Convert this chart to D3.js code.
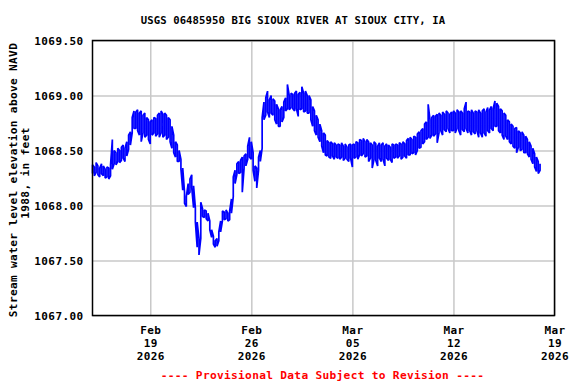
<!DOCTYPE html>
<html>
<head>
<meta charset="utf-8">
<script src="https://cdn.jsdelivr.net/npm/d3@7.9.0/dist/d3.min.js"></script>
<style>
  body { margin: 0; background: #fff; }
  svg { display: block; }
  text { font-family: "DejaVu Sans Mono", "Liberation Mono", monospace; font-weight: bold; }
</style>
</head>
<body>
<div id="chart"></div>
<script>
const title = "USGS 06485950 BIG SIOUX RIVER AT SIOUX CITY,  IA";
const yLabel = ["Stream water level elevation above NAVD", "1988, in feet"];
const note = "---- Provisional Data Subject to Revision ----";

const startTime = new Date(2026, 1, 15, 0, 0);
const endTime = new Date(2026, 2, 19, 0, 0);
const binHours = 3;

const yTicks = [1067.0, 1067.5, 1068.0, 1068.5, 1069.0, 1069.5];
const xTicks = [new Date(2026, 1, 19), new Date(2026, 1, 26), new Date(2026, 2, 5), new Date(2026, 2, 12), new Date(2026, 2, 19)];

// highest reading in each 3-hour bin, from Feb 15 00:00, one row per day
const highs = [
  1068.37, 1068.35, 1068.39, 1068.36, 1068.34, 1068.38, 1068.36, 1068.33, // Feb 15
  1068.35, 1068.34, 1068.37, 1068.60, 1068.50, 1068.48, 1068.52, 1068.50, // Feb 16
  1068.53, 1068.55, 1068.52, 1068.58, 1068.64, 1068.67, 1068.80, 1068.86, // Feb 17
  1068.85, 1068.87, 1068.84, 1068.86, 1068.82, 1068.84, 1068.80, 1068.78, // Feb 18
  1068.76, 1068.78, 1068.80, 1068.79, 1068.82, 1068.84, 1068.86, 1068.83, // Feb 19
  1068.84, 1068.82, 1068.80, 1068.78, 1068.72, 1068.64, 1068.58, 1068.55, // Feb 20
  1068.50, 1068.42, 1068.34, 1068.12, 1068.08, 1068.20, 1068.24, 1068.28, // Feb 21
  1068.18, 1067.98, 1067.85, 1067.70, 1068.03, 1067.97, 1067.96, 1067.95, // Feb 22
  1067.93, 1067.86, 1067.78, 1067.72, 1067.68, 1067.70, 1067.76, 1067.86, // Feb 23
  1067.95, 1067.94, 1067.96, 1067.93, 1067.95, 1068.06, 1068.26, 1068.32, // Feb 24
  1068.38, 1068.40, 1068.41, 1068.44, 1068.45, 1068.47, 1068.54, 1068.62, // Feb 25
  1068.58, 1068.48, 1068.36, 1068.34, 1068.44, 1068.50, 1068.80, 1068.94, // Feb 26
  1068.98, 1069.04, 1068.96, 1069.00, 1068.97, 1068.95, 1068.92, 1068.88, // Feb 27
  1068.87, 1068.90, 1068.94, 1068.98, 1069.10, 1069.00, 1069.02, 1069.01, // Feb 28
  1069.02, 1069.04, 1069.01, 1069.03, 1069.08, 1069.02, 1069.04, 1069.00, // Mar 1
  1069.00, 1068.96, 1068.90, 1068.86, 1068.82, 1068.78, 1068.74, 1068.68, // Mar 2
  1068.66, 1068.64, 1068.59, 1068.57, 1068.58, 1068.56, 1068.57, 1068.55, // Mar 3
  1068.56, 1068.55, 1068.57, 1068.54, 1068.56, 1068.53, 1068.55, 1068.56, // Mar 4
  1068.55, 1068.56, 1068.58, 1068.57, 1068.60, 1068.59, 1068.61, 1068.58, // Mar 5
  1068.60, 1068.58, 1068.57, 1068.55, 1068.58, 1068.56, 1068.54, 1068.57, // Mar 6
  1068.55, 1068.57, 1068.54, 1068.56, 1068.55, 1068.53, 1068.56, 1068.55, // Mar 7
  1068.56, 1068.55, 1068.57, 1068.56, 1068.58, 1068.56, 1068.59, 1068.61, // Mar 8
  1068.62, 1068.60, 1068.63, 1068.62, 1068.65, 1068.67, 1068.68, 1068.70, // Mar 9
  1068.74, 1068.76, 1068.92, 1068.78, 1068.80, 1068.82, 1068.81, 1068.83, // Mar 10
  1068.84, 1068.82, 1068.85, 1068.83, 1068.86, 1068.84, 1068.83, 1068.85, // Mar 11
  1068.86, 1068.84, 1068.87, 1068.85, 1068.86, 1068.84, 1068.88, 1068.94, // Mar 12
  1068.86, 1068.85, 1068.87, 1068.84, 1068.86, 1068.85, 1068.87, 1068.84, // Mar 13
  1068.86, 1068.88, 1068.85, 1068.89, 1068.87, 1068.90, 1068.88, 1068.95, // Mar 14
  1068.93, 1068.90, 1068.88, 1068.86, 1068.84, 1068.82, 1068.78, 1068.76, // Mar 15
  1068.74, 1068.72, 1068.70, 1068.71, 1068.68, 1068.66, 1068.67, 1068.64, // Mar 16
  1068.63, 1068.60, 1068.58, 1068.54, 1068.52, 1068.47, 1068.44, 1068.40, // Mar 17
  1068.38                                                                 // Mar 18
];

// lowest reading in each 3-hour bin
const lows = [
  1068.29, 1068.27, 1068.30, 1068.28, 1068.26, 1068.29, 1068.27, 1068.25, // Feb 15
  1068.26, 1068.24, 1068.27, 1068.33, 1068.38, 1068.37, 1068.40, 1068.39, // Feb 16
  1068.41, 1068.43, 1068.40, 1068.45, 1068.51, 1068.55, 1068.66, 1068.70, // Feb 17
  1068.70, 1068.68, 1068.64, 1068.58, 1068.66, 1068.62, 1068.64, 1068.60, // Feb 18
  1068.56, 1068.64, 1068.66, 1068.63, 1068.65, 1068.62, 1068.66, 1068.62, // Feb 19
  1068.64, 1068.60, 1068.62, 1068.58, 1068.52, 1068.48, 1068.44, 1068.40, // Feb 20
  1068.40, 1068.33, 1068.14, 1068.02, 1067.99, 1068.10, 1068.12, 1068.16, // Feb 21
  1067.98, 1067.85, 1067.62, 1067.55, 1067.70, 1067.90, 1067.89, 1067.88, // Feb 22
  1067.86, 1067.78, 1067.71, 1067.65, 1067.62, 1067.63, 1067.68, 1067.76, // Feb 23
  1067.86, 1067.87, 1067.88, 1067.86, 1067.87, 1067.93, 1068.08, 1068.20, // Feb 24
  1068.28, 1068.29, 1068.30, 1068.12, 1068.34, 1068.36, 1068.42, 1068.44, // Feb 25
  1068.42, 1068.32, 1068.22, 1068.16, 1068.32, 1068.40, 1068.52, 1068.78, // Feb 26
  1068.82, 1068.85, 1068.80, 1068.84, 1068.82, 1068.78, 1068.74, 1068.72, // Feb 27
  1068.72, 1068.76, 1068.80, 1068.86, 1068.88, 1068.87, 1068.89, 1068.88, // Feb 28
  1068.86, 1068.88, 1068.81, 1068.87, 1068.88, 1068.85, 1068.86, 1068.84, // Mar 1
  1068.84, 1068.78, 1068.72, 1068.68, 1068.64, 1068.62, 1068.58, 1068.54, // Mar 2
  1068.48, 1068.46, 1068.45, 1068.44, 1068.43, 1068.45, 1068.42, 1068.44, // Mar 3
  1068.43, 1068.42, 1068.44, 1068.41, 1068.43, 1068.42, 1068.40, 1068.43, // Mar 4
  1068.35, 1068.43, 1068.44, 1068.42, 1068.46, 1068.45, 1068.47, 1068.44, // Mar 5
  1068.45, 1068.40, 1068.43, 1068.34, 1068.42, 1068.41, 1068.36, 1068.43, // Mar 6
  1068.40, 1068.42, 1068.36, 1068.43, 1068.41, 1068.42, 1068.39, 1068.43, // Mar 7
  1068.44, 1068.43, 1068.45, 1068.42, 1068.44, 1068.45, 1068.43, 1068.46, // Mar 8
  1068.46, 1068.47, 1068.48, 1068.46, 1068.50, 1068.52, 1068.53, 1068.56, // Mar 9
  1068.58, 1068.60, 1068.62, 1068.61, 1068.64, 1068.63, 1068.65, 1068.57, // Mar 10
  1068.66, 1068.68, 1068.64, 1068.69, 1068.67, 1068.70, 1068.66, 1068.68, // Mar 11
  1068.68, 1068.66, 1068.70, 1068.68, 1068.64, 1068.69, 1068.67, 1068.70, // Mar 12
  1068.66, 1068.68, 1068.64, 1068.67, 1068.65, 1068.68, 1068.62, 1068.66, // Mar 13
  1068.62, 1068.66, 1068.63, 1068.68, 1068.66, 1068.70, 1068.68, 1068.72, // Mar 14
  1068.72, 1068.68, 1068.66, 1068.64, 1068.60, 1068.63, 1068.60, 1068.58, // Mar 15
  1068.56, 1068.54, 1068.52, 1068.48, 1068.53, 1068.50, 1068.51, 1068.48, // Mar 16
  1068.48, 1068.47, 1068.44, 1068.42, 1068.38, 1068.35, 1068.31, 1068.29, // Mar 17
  1068.32                                                                 // Mar 18
];

const width = 576;
const height = 384;
const plot = { left: 92.5, right: 554.5, top: 40.5, bottom: 315.5 };

// each bin is drawn as a vertical stroke from low to high, alternating direction
const points = highs.flatMap((hi, i) => {
  const t = d3.timeHour.offset(startTime, i * binHours);
  const lo = lows[i];
  return i % 2 === 0
    ? [{ time: t, value: lo }, { time: t, value: hi }]
    : [{ time: t, value: hi }, { time: t, value: lo }];
});

const svg = d3.select("#chart")
  .append("svg")
  .attr("width", width)
  .attr("height", height);

const x = d3.scaleTime()
  .domain([startTime, endTime])
  .range([plot.left, plot.right]);

const y = d3.scaleLinear()
  .domain([1067, 1069.5])
  .range([plot.bottom, plot.top]);

// gridlines
svg.append("g")
  .attr("transform", `translate(0,${plot.bottom})`)
  .call(d3.axisBottom(x).tickValues(xTicks).tickSize(-(plot.bottom - plot.top)).tickFormat(""))
  .call(g => g.select(".domain").remove())
  .call(g => g.selectAll("line").attr("stroke", "#c8c8c8").attr("stroke-width", 1.5));

svg.append("g")
  .attr("transform", `translate(${plot.left},0)`)
  .call(d3.axisLeft(y).tickValues(yTicks).tickSize(-(plot.right - plot.left)).tickFormat(""))
  .call(g => g.select(".domain").remove())
  .call(g => g.selectAll("line").attr("stroke", "#c8c8c8").attr("stroke-width", 1.5));

// series
const line = d3.line()
  .x(d => x(d.time))
  .y(d => y(d.value));

svg.append("path")
  .datum(points)
  .attr("fill", "none")
  .attr("stroke", "#0000ff")
  .attr("stroke-width", 1.7)
  .attr("stroke-linejoin", "bevel")
  .attr("d", line);

// frame
svg.append("rect")
  .attr("x", plot.left)
  .attr("y", plot.top)
  .attr("width", plot.right - plot.left)
  .attr("height", plot.bottom - plot.top)
  .attr("fill", "none")
  .attr("stroke", "#000")
  .attr("stroke-width", 1.5);

// y tick labels
svg.append("g")
  .attr("transform", `translate(${plot.left},0)`)
  .call(d3.axisLeft(y).tickValues(yTicks).tickSize(0).tickPadding(9).tickFormat(d3.format(".2f")))
  .call(g => g.select(".domain").remove())
  .call(g => g.selectAll("text")
    .attr("font-family", null)
    .attr("font-size", 11)
    .attr("letter-spacing", 0.4)
    .attr("fill", "#000")
    .attr("dy", "0.4em"));

// x tick labels, three lines each
const fmtMon = d3.timeFormat("%b");
const fmtDay = d3.timeFormat("%d");
const fmtYear = d3.timeFormat("%Y");

const xAxis = svg.append("g")
  .attr("transform", `translate(0,${plot.bottom})`)
  .call(d3.axisBottom(x).tickValues(xTicks).tickSize(0).tickFormat(""))
  .call(g => g.select(".domain").remove());

xAxis.selectAll(".tick text")
  .attr("font-family", null)
  .attr("font-size", 11)
  .attr("letter-spacing", 0.4)
  .attr("fill", "#000")
  .attr("y", 0)
  .attr("dy", null)
  .each(function(d) {
    const t = d3.select(this);
    [fmtMon(d), fmtDay(d), fmtYear(d)].forEach((s, i) => {
      t.append("tspan").attr("x", 0).attr("y", 18.5 + i * 13).text(s);
    });
  });

// title
svg.append("text")
  .attr("x", 293)
  .attr("y", 24)
  .attr("text-anchor", "middle")
  .attr("font-size", 10.6)
  .attr("letter-spacing", 0.1)
  .text(title);

// y axis label
svg.append("text")
  .attr("transform", "translate(17,180) rotate(-90)")
  .attr("text-anchor", "middle")
  .attr("font-size", 11.2)
  .attr("letter-spacing", 0.3)
  .text(yLabel[0]);

svg.append("text")
  .attr("transform", "translate(29,173) rotate(-90)")
  .attr("text-anchor", "middle")
  .attr("font-size", 11.2)
  .attr("letter-spacing", 0.3)
  .text(yLabel[1]);

// provisional note
svg.append("text")
  .attr("x", 322.5)
  .attr("y", 378.5)
  .attr("text-anchor", "middle")
  .attr("font-size", 11.2)
  .attr("letter-spacing", 0.3)
  .attr("fill", "#ff0000")
  .text(note);
</script>
</body>
</html>
